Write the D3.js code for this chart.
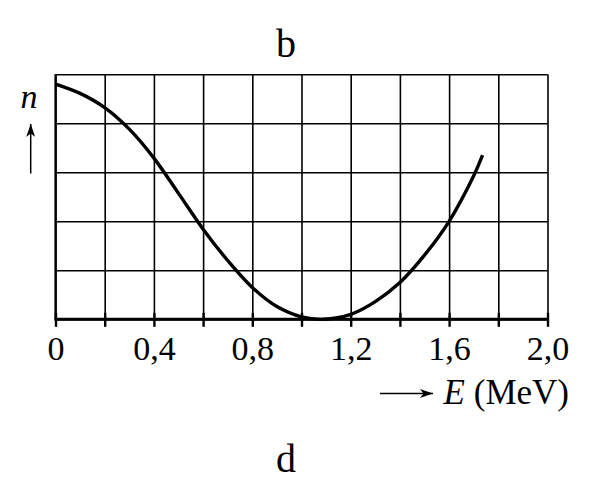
<!DOCTYPE html>
<html>
<head>
<meta charset="utf-8">
<script src="https://cdn.jsdelivr.net/npm/d3@7"></script>
<style>
  body { margin: 0; background: #fff; }
  text { font-family: "Liberation Serif", "DejaVu Serif", serif; fill: #000; }
</style>
</head>
<body>
<div id="chart"></div>
<script>

// energie in MeV, n in grid units (0..5)
let energy = [0, 0.1, 0.2, 0.3, 0.4, 0.5, 0.6, 0.7, 0.8, 0.9, 1.0, 1.09, 1.2, 1.3, 1.4, 1.5, 1.6, 1.7, 1.736]
let counts = [4.80, 4.61, 4.32, 3.88, 3.29, 2.57, 1.84, 1.20, 0.65, 0.26, 0.05, 0.0, 0.10, 0.36, 0.75, 1.31, 2.0, 2.93, 3.35]

let x_ticks = [0, 0.2, 0.4, 0.6, 0.8, 1.0, 1.2, 1.4, 1.6, 1.8, 2.0]
let x_labels = ["0", "", "0,4", "", "0,8", "", "1,2", "", "1,6", "", "2,0"]
let y_ticks = [0, 1, 2, 3, 4, 5]

let width = 595, height = 486
let margin = {left: 55.5, right: 47.5, top: 74.3, bottom: 166.7}

let svg = d3.select('#chart').append('svg')
  .attr('width', width)
  .attr('height', height)

let x = d3.scaleLinear().domain([0, 2]).range([margin.left, width - margin.right])
let y = d3.scaleLinear().domain([0, 5]).range([height - margin.bottom, margin.top])

// grid
svg.append('g')
  .attr('transform', 'translate(0,' + y(0) + ')')
  .call(d3.axisBottom(x).tickValues(x_ticks).tickSize(-(y(0) - y(5))).tickFormat(''))
  .call(g => g.select('.domain').remove())
  .selectAll('line').attr('stroke', '#000').attr('stroke-width', 1.6)

svg.append('g')
  .attr('transform', 'translate(' + x(0) + ',0)')
  .call(d3.axisLeft(y).tickValues(y_ticks).tickSize(-(x(2) - x(0))).tickFormat(''))
  .call(g => g.select('.domain').remove())
  .selectAll('line').attr('stroke', '#000').attr('stroke-width', 1.6)

// left axis line
svg.append('line')
  .attr('x1', x(0)).attr('x2', x(0))
  .attr('y1', y(5)).attr('y2', y(0))
  .attr('stroke', '#000').attr('stroke-width', 2.2)

// bottom axis with ticks
let xAxis = svg.append('g')
  .attr('transform', 'translate(0,' + y(0) + ')')
  .call(d3.axisBottom(x).tickValues(x_ticks).tickSize(0).tickPadding(0).tickFormat((d, i) => x_labels[i]))

xAxis.select('.domain').remove()
xAxis.selectAll('.tick text')
  .attr('y', 41)
  .attr('dy', null)
  .style('font-size', '34px')

xAxis.selectAll('.tick').append('line')
  .attr('y1', -6.5).attr('y2', 7.5)
  .attr('stroke', '#000').attr('stroke-width', 2.4)

xAxis.append('line')
  .attr('x1', x(0) - 1).attr('x2', x(2) + 1)
  .attr('stroke', '#000').attr('stroke-width', 3)

// curve
let line = d3.line()
  .x((d, i) => x(energy[i]))
  .y(d => y(d))
  .curve(d3.curveCatmullRom.alpha(0.5))

svg.append('path')
  .datum(counts)
  .attr('d', line)
  .attr('fill', 'none')
  .attr('stroke', '#000')
  .attr('stroke-width', 3.4)
  .attr('stroke-linecap', 'butt')

// arrow marker
svg.append('defs').append('marker')
  .attr('id', 'arrow')
  .attr('viewBox', '0 0 13 9')
  .attr('refX', 13).attr('refY', 4.5)
  .attr('markerWidth', 13).attr('markerHeight', 9)
  .attr('markerUnits', 'userSpaceOnUse')
  .attr('orient', 'auto')
  .append('path')
  .attr('d', 'M0,0 L13,4.5 L0,9 L3.5,4.5 Z')
  .attr('fill', '#000')

// n label
svg.append('text')
  .attr('x', 29).attr('y', 108)
  .attr('text-anchor', 'middle')
  .style('font-size', '34px')
  .style('font-style', 'italic')
  .text('n')

svg.append('line')
  .attr('x1', 30.7).attr('x2', 30.7)
  .attr('y1', 173.5).attr('y2', 124)
  .attr('stroke', '#000').attr('stroke-width', 1.5)
  .attr('marker-end', 'url(#arrow)')

// E label
svg.append('line')
  .attr('x1', 380).attr('x2', 433)
  .attr('y1', 393.5).attr('y2', 393.5)
  .attr('stroke', '#000').attr('stroke-width', 1.5)
  .attr('marker-end', 'url(#arrow)')

let e_label = svg.append('text')
  .attr('x', 569).attr('y', 404)
  .attr('text-anchor', 'end')
  .style('font-size', '35px')

e_label.append('tspan').style('font-style', 'italic').text('E')
e_label.append('tspan').text(' (MeV)')

// panel letters
svg.append('text')
  .attr('x', 286).attr('y', 57)
  .attr('text-anchor', 'middle')
  .style('font-size', '40px')
  .text('b')

svg.append('text')
  .attr('x', 286).attr('y', 472)
  .attr('text-anchor', 'middle')
  .style('font-size', '40px')
  .text('d')

</script>
</body>
</html>
